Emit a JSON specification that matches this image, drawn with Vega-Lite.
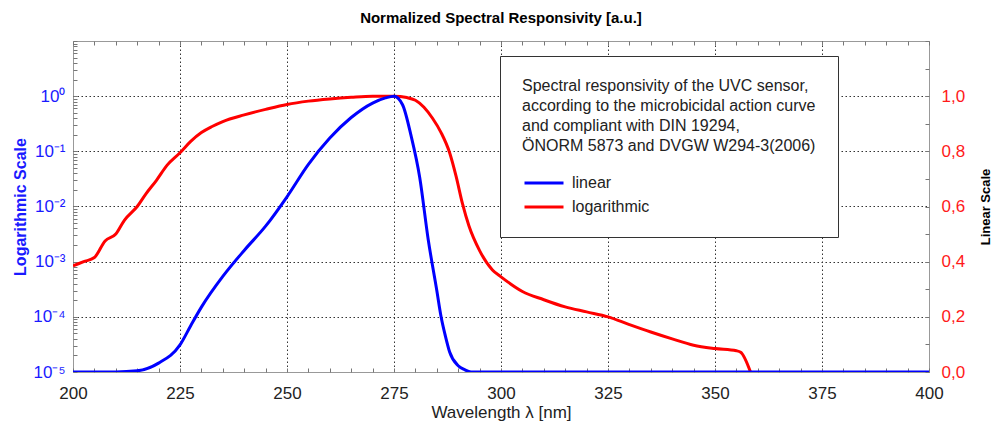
{
  "$schema": "https://vega.github.io/schema/vega-lite/v6.json",
  "width": 856,
  "height": 331,
  "autosize": {"type": "none"},
  "padding": {"left": 73, "top": 41, "right": 64, "bottom": 56},
  "background": "white",
  "title": {"text": "Normalized Spectral Responsivity [a.u.]", "font": "Liberation Sans", "fontSize": 15, "fontWeight": "bold", "color": "black", "offset": 6, "anchor": "middle", "frame": "group"},
  "config": {"view": {"stroke": "#999", "strokeWidth": 1}, "font": "Liberation Sans"},
  "data": {"values": [
    {"wl": 200, "val": 0.385, "series": "logarithmic"},
    {"wl": 202.5, "val": 0.40, "series": "logarithmic"},
    {"wl": 205, "val": 0.415, "series": "logarithmic"},
    {"wl": 207.5, "val": 0.475, "series": "logarithmic"},
    {"wl": 210, "val": 0.50, "series": "logarithmic"},
    {"wl": 212, "val": 0.55, "series": "logarithmic"},
    {"wl": 215, "val": 0.60, "series": "logarithmic"},
    {"wl": 217, "val": 0.645, "series": "logarithmic"},
    {"wl": 219.5, "val": 0.695, "series": "logarithmic"},
    {"wl": 222, "val": 0.75, "series": "logarithmic"},
    {"wl": 225, "val": 0.795, "series": "logarithmic"},
    {"wl": 227.5, "val": 0.836, "series": "logarithmic"},
    {"wl": 230, "val": 0.868, "series": "logarithmic"},
    {"wl": 232.5, "val": 0.89, "series": "logarithmic"},
    {"wl": 235, "val": 0.908, "series": "logarithmic"},
    {"wl": 240, "val": 0.932, "series": "logarithmic"},
    {"wl": 245, "val": 0.952, "series": "logarithmic"},
    {"wl": 250, "val": 0.970, "series": "logarithmic"},
    {"wl": 255, "val": 0.982, "series": "logarithmic"},
    {"wl": 260, "val": 0.990, "series": "logarithmic"},
    {"wl": 265, "val": 0.996, "series": "logarithmic"},
    {"wl": 270, "val": 1.0, "series": "logarithmic"},
    {"wl": 275, "val": 1.0, "series": "logarithmic"},
    {"wl": 278, "val": 0.995, "series": "logarithmic"},
    {"wl": 280, "val": 0.985, "series": "logarithmic"},
    {"wl": 282, "val": 0.96, "series": "logarithmic"},
    {"wl": 284, "val": 0.92, "series": "logarithmic"},
    {"wl": 286, "val": 0.868, "series": "logarithmic"},
    {"wl": 288, "val": 0.795, "series": "logarithmic"},
    {"wl": 289.5, "val": 0.71, "series": "logarithmic"},
    {"wl": 291, "val": 0.61, "series": "logarithmic"},
    {"wl": 292.5, "val": 0.53, "series": "logarithmic"},
    {"wl": 295, "val": 0.44, "series": "logarithmic"},
    {"wl": 298, "val": 0.37, "series": "logarithmic"},
    {"wl": 300, "val": 0.345, "series": "logarithmic"},
    {"wl": 305, "val": 0.292, "series": "logarithmic"},
    {"wl": 310, "val": 0.262, "series": "logarithmic"},
    {"wl": 315, "val": 0.236, "series": "logarithmic"},
    {"wl": 320, "val": 0.218, "series": "logarithmic"},
    {"wl": 325, "val": 0.200, "series": "logarithmic"},
    {"wl": 330, "val": 0.172, "series": "logarithmic"},
    {"wl": 335, "val": 0.145, "series": "logarithmic"},
    {"wl": 340, "val": 0.12, "series": "logarithmic"},
    {"wl": 345, "val": 0.097, "series": "logarithmic"},
    {"wl": 350, "val": 0.085, "series": "logarithmic"},
    {"wl": 355, "val": 0.077, "series": "logarithmic"},
    {"wl": 356, "val": 0.072, "series": "logarithmic"},
    {"wl": 358.3, "val": 0, "series": "logarithmic"},
    {"wl": 200, "val": 0.00001, "series": "linear"},
    {"wl": 205, "val": 0.00001, "series": "linear"},
    {"wl": 210, "val": 0.00001, "series": "linear"},
    {"wl": 215, "val": 0.0000105, "series": "linear"},
    {"wl": 220, "val": 0.0000145, "series": "linear"},
    {"wl": 225, "val": 0.000031, "series": "linear"},
    {"wl": 227.5, "val": 0.000069, "series": "linear"},
    {"wl": 230, "val": 0.00015, "series": "linear"},
    {"wl": 235, "val": 0.00054, "series": "linear"},
    {"wl": 240, "val": 0.0016, "series": "linear"},
    {"wl": 245, "val": 0.0044, "series": "linear"},
    {"wl": 250, "val": 0.015, "series": "linear"},
    {"wl": 255, "val": 0.058, "series": "linear"},
    {"wl": 260, "val": 0.174, "series": "linear"},
    {"wl": 265, "val": 0.41, "series": "linear"},
    {"wl": 270, "val": 0.75, "series": "linear"},
    {"wl": 273, "val": 0.93, "series": "linear"},
    {"wl": 275, "val": 1.0, "series": "linear"},
    {"wl": 277, "val": 0.7, "series": "linear"},
    {"wl": 279, "val": 0.19, "series": "linear"},
    {"wl": 281, "val": 0.034, "series": "linear"},
    {"wl": 283, "val": 0.0025, "series": "linear"},
    {"wl": 285, "val": 0.0003, "series": "linear"},
    {"wl": 286, "val": 0.0001, "series": "linear"},
    {"wl": 287, "val": 0.000045, "series": "linear"},
    {"wl": 288, "val": 0.000023, "series": "linear"},
    {"wl": 290, "val": 0.000013, "series": "linear"},
    {"wl": 291.5, "val": 0.000011, "series": "linear"},
    {"wl": 293, "val": 0.00001, "series": "linear"},
    {"wl": 300, "val": 0.00001, "series": "linear"},
    {"wl": 400, "val": 0.00001, "series": "linear"}
  ]},
  "layer": [
    {
      "transform": [{"filter": "datum.series === 'logarithmic'"}],
      "mark": {"type": "line", "strokeWidth": 3, "clip": true, "interpolate": "monotone"},
      "encoding": {
        "x": {"field": "wl", "type": "quantitative", "scale": {"domain": [200, 400], "nice": false},
          "axis": {"orient": "top", "values": [200,205,210,215,220,225,230,235,240,245,250,255,260,265,270,275,280,285,290,295,300,305,310,315,320,325,330,335,340,345,350,355,360,365,370,375,380,385,390,395,400],
            "labels": false, "tickSize": -4, "tickColor": "#777", "grid": false, "domain": false, "title": null}},
        "y": {"field": "val", "type": "quantitative", "scale": {"domain": [0, 1.2], "nice": false},
          "axis": {"orient": "right", "values": [0,0.1,0.2,0.3,0.4,0.5,0.6,0.7,0.8,0.9,1.0,1.1,1.2],
            "labelExpr": "(round(datum.value*10) % 2 === 0 && datum.value < 1.1) ? replace(format(datum.value, '.1f'), '.', ',') : ''",
            "grid": false, "tickSize": -4, "tickColor": "#777", "domain": false, "labelOverlap": false, "labelFlush": false,
            "labelColor": "#ff1a1a", "labelFont": "Liberation Sans", "labelFontSize": 17, "labelPadding": 16,
            "title": "Linear Scale", "titleColor": "black", "titleFont": "Liberation Sans", "titleFontSize": 13, "titleFontWeight": "bold", "titleAngle": 270, "titlePadding": 28}},
        "color": {"field": "series", "type": "nominal", "scale": {"domain": ["linear", "logarithmic"], "range": ["#0000ff", "#ff0000"]},
          "legend": {"orient": "none", "legendX": 427, "legendY": 15,
            "title": ["Spectral responsivity of the UVC sensor,", "according to the microbicidal action curve", "and compliant with DIN 19294,", "ÖNORM 5873 and DVGW W294-3(2006)"],
            "titleFont": "Liberation Sans", "titleFontSize": 16, "titleFontWeight": "normal", "titleColor": "#222", "titleLimit": 1000, "titleLineHeight": 20, "titlePadding": 20,
            "labelFont": "Liberation Sans", "labelFontSize": 16, "labelColor": "#222",
            "symbolType": "M-2.6,0H2.6", "symbolSize": 225, "symbolStrokeWidth": 3, "symbolOffset": 13, "labelOffset": 19, "rowPadding": 7,
            "padding": 22, "strokeColor": "#333", "fillColor": "white", "cornerRadius": 0}}
      }
    },
    {
      "transform": [{"filter": "datum.series === 'linear'"}],
      "mark": {"type": "line", "strokeWidth": 3, "clip": true, "interpolate": "monotone"},
      "encoding": {
        "x": {"field": "wl", "type": "quantitative", "scale": {"domain": [200, 400], "nice": false},
          "axis": {"orient": "bottom", "values": [200,205,210,215,220,225,230,235,240,245,250,255,260,265,270,275,280,285,290,295,300,305,310,315,320,325,330,335,340,345,350,355,360,365,370,375,380,385,390,395,400],
            "labelExpr": "datum.value % 25 === 0 ? datum.value : ''", "labelOverlap": false, "labelFlush": false,
            "grid": true, "gridColor": "#333", "gridDash": [1.5, 2.5], "gridWidth": 1,
            "gridOpacity": {"condition": {"test": "datum.value % 25 === 0 && datum.value > 200 && datum.value < 400", "value": 1}, "value": 0},
            "tickSize": -4, "tickColor": "#777", "domain": false,
            "labelColor": "#222", "labelFont": "Liberation Sans", "labelFontSize": 17, "labelPadding": 17,
            "title": "Wavelength λ [nm]", "titleColor": "#222", "titleFont": "Liberation Sans", "titleFontSize": 17, "titleFontWeight": "normal", "titlePadding": 3}},
        "y": {"field": "val", "type": "quantitative", "scale": {"type": "log", "domain": [0.00001, 10], "nice": false},
          "axis": {"orient": "left", "values": [0.00001,0.00002,0.00003,0.00004,0.00005,0.00006,0.00007,0.00008,0.00009,0.0001,0.0002,0.0003,0.0004,0.0005,0.0006,0.0007,0.0008,0.0009,0.001,0.002,0.003,0.004,0.005,0.006,0.007,0.008,0.009,0.01,0.02,0.03,0.04,0.05,0.06,0.07,0.08,0.09,0.1,0.2,0.3,0.4,0.5,0.6,0.7,0.8,0.9,1,2,3,4,5,6,7,8,9,10],
            "labelExpr": "(abs(log(datum.value)/LN10 - round(log(datum.value)/LN10)) < 0.000001 && round(log(datum.value)/LN10) <= 0) ? '10' + (round(log(datum.value)/LN10) < 0 ? '⁻' : '') + ['⁰','¹','²','³','⁴','⁵'][abs(round(log(datum.value)/LN10))] : ''",
            "labelOverlap": false, "labelFlush": false,
            "grid": true, "gridColor": "#333", "gridDash": [1.5, 2.5], "gridWidth": 1,
            "gridOpacity": {"condition": {"test": "abs(log(datum.value)/LN10 - round(log(datum.value)/LN10)) < 0.000001 && datum.value > 0.00002 && datum.value < 5", "value": 1}, "value": 0},
            "tickSize": -4, "tickColor": "#777", "domain": false,
            "labelColor": "#1a1aff", "labelFont": "Liberation Sans", "labelFontSize": 17, "labelPadding": 12,
            "title": "Logarithmic Scale", "titleColor": "#1a1aff", "titleFont": "Liberation Sans", "titleFontSize": 16, "titleFontWeight": "bold", "titlePadding": 4}},
        "color": {"field": "series", "type": "nominal", "scale": {"domain": ["linear", "logarithmic"], "range": ["#0000ff", "#ff0000"]}}
      }
    }
  ],
  "resolve": {"scale": {"y": "independent"}, "axis": {"x": "independent"}}
}
